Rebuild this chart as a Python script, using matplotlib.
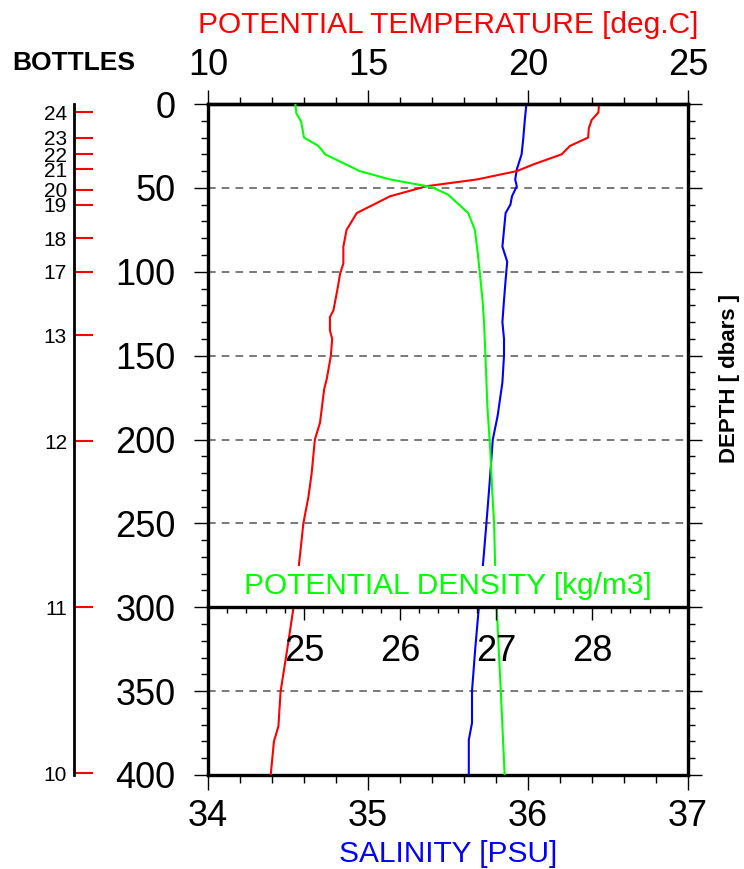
import matplotlib
matplotlib.use("Agg")
import matplotlib.pyplot as plt
import numpy as np
from matplotlib.ticker import MultipleLocator

plt.rcParams['font.family'] = ['Liberation Sans', 'DejaVu Sans']

# potential temperature profile (deg C vs dbar)
temp_depth = [0, 5, 9.5, 14.5, 20, 25, 30, 36, 40, 45, 49, 55, 65, 75, 85, 95, 101,
              111, 123, 127, 135, 140, 150, 164, 170, 190, 200, 220, 234, 250, 268,
              275, 303, 327, 350, 371, 380, 400]
temp = [22.22, 22.2, 21.99, 21.9, 21.88, 21.31, 21.05, 20.17, 19.65, 18.4, 16.83,
        15.69, 14.65, 14.33, 14.23, 14.23, 14.13, 14.04, 13.92, 13.81, 13.81, 13.88,
        13.84, 13.71, 13.63, 13.5, 13.34, 13.24, 13.14, 12.98, 12.88, 12.84, 12.65,
        12.46, 12.27, 12.2, 12.06, 11.96]

# salinity profile (PSU)
sal_depth = [0, 9.5, 21, 30, 39, 45, 49, 55, 60, 65, 75, 85, 94, 105, 117, 130, 140,
             150, 166, 186, 200, 226, 250, 273, 303, 325, 350, 369, 379, 400]
sal = [35.99, 35.98, 35.97, 35.96, 35.93, 35.92, 35.93, 35.9, 35.89, 35.86, 35.85,
       35.84, 35.87, 35.86, 35.85, 35.84, 35.85, 35.85, 35.84, 35.81, 35.78, 35.76,
       35.74, 35.72, 35.69, 35.67, 35.65, 35.65, 35.63, 35.63]

# potential density profile (kg/m3)
dens_depth = [0, 5.5, 10.5, 20, 25, 30, 40, 45, 49, 50, 54, 65, 75, 89, 100, 117, 130,
              150, 180, 206, 230, 250, 273, 303, 350, 400]
dens = [24.91, 24.92, 24.97, 25.0, 25.15, 25.22, 25.58, 25.9, 26.28, 26.35, 26.5,
        26.71, 26.78, 26.81, 26.83, 26.86, 26.875, 26.89, 26.91, 26.94, 26.96, 26.98,
        26.99, 27.01, 27.05, 27.09]

# bottle trip depths
bottle_depth = [5, 20, 30, 39, 51, 60, 80, 100, 138, 201, 300, 399]
bottle_num = [24, 23, 22, 21, 20, 19, 18, 17, 13, 12, 11, 10]

dens_labels = [25, 26, 27, 28]

W, H = 744, 869
fig = plt.figure(figsize=(W / 100, H / 100), dpi=100)

left, right, top, bot = 208, 688, 104, 775
split = 607
pos = [left / W, 1 - bot / H, (right - left) / W, (bot - top) / H]

ax = fig.add_axes(pos)
ax.set_xlim(34, 37)
ax.set_ylim(400, 0)
ax.plot(sal, sal_depth, color='#0000ff', lw=1.5, zorder=3)
ax.xaxis.set_major_locator(MultipleLocator(1))
ax.xaxis.set_minor_locator(MultipleLocator(0.2))
ax.yaxis.set_major_locator(MultipleLocator(50))
ax.yaxis.set_minor_locator(MultipleLocator(10))
ax.yaxis.grid(True, which='major', linestyle=(0, (5, 4)), color='#555555', lw=1.1)
ax.tick_params(axis='y', which='both', left=True, right=True, direction='out', width=1)
ax.tick_params(axis='y', which='major', length=10, labelsize=26, pad=13.5)
ax.tick_params(axis='y', which='minor', length=5)
ax.tick_params(axis='x', which='major', length=11, width=1, labelsize=26, pad=6)
ax.tick_params(axis='x', which='minor', length=6, width=1)
for s in ax.spines.values():
    s.set_linewidth(2.4)
ax.set_xlabel('SALINITY [PSU]', color='#0000ff', fontsize=21.5)
ax.xaxis.set_label_coords(0.5, -0.097)

axT = ax.twiny()
axT.set_xlim(10, 25)
axT.plot(temp, temp_depth, color='#ff0000', lw=1.5)
axT.xaxis.set_major_locator(MultipleLocator(5))
axT.xaxis.set_minor_locator(MultipleLocator(1))
axT.tick_params(axis='x', which='major', length=10, width=1, labelsize=26, pad=5)
axT.tick_params(axis='x', which='minor', length=5, width=1)
for k, s in axT.spines.items():
    s.set_visible(k == 'top')
    s.set_linewidth(2.4)
axT.set_xlabel('POTENTIAL TEMPERATURE [deg.C]', color='#ff0000', fontsize=21.5)
axT.xaxis.set_label_coords(0.5, 1.106)

axR = ax.twiny()
axR.set_xlim(24, 29)
axR.plot(dens, dens_depth, color='#00ff00', lw=1.5)
axR.xaxis.set_visible(False)
for s in axR.spines.values():
    s.set_visible(False)

# lower panel carrying the density axis on the 300 dbar line
axd = fig.add_axes([left / W, 1 - bot / H, (right - left) / W, (bot - split) / H])
axd.set_facecolor('none')
axd.set_xlim(24, 29)
axd.set_ylim(400, 300)
axd.yaxis.set_visible(False)
for k, s in axd.spines.items():
    s.set_visible(k == 'top')
    s.set_linewidth(2.4)
axd.xaxis.tick_top()
axd.xaxis.set_major_locator(MultipleLocator(1))
axd.xaxis.set_minor_locator(MultipleLocator(0.2))
axd.tick_params(axis='x', which='major', direction='in', length=9.5, width=1, labeltop=False)
axd.tick_params(axis='x', which='minor', direction='in', length=4.5, width=1)
for v in dens_labels:
    axd.text(v, 332.3, str(v), ha='center', va='baseline', fontsize=26)
axd.text(26.5, 292.3, 'POTENTIAL DENSITY [kg/m3]', color='#00ff00', fontsize=21.5,
         ha='center', va='baseline', zorder=2,
         bbox=dict(facecolor='white', edgecolor='none', pad=4))

# bottle axis
axb = fig.add_axes([74 / W, 1 - bot / H, 0.03, (bot - top) / H])
axb.set_facecolor('none')
axb.set_ylim(400, 0)
axb.xaxis.set_visible(False)
for k, s in axb.spines.items():
    s.set_visible(k == 'left')
    s.set_linewidth(2)
axb.set_yticks(bottle_depth)
axb.set_yticklabels([str(b) for b in bottle_num])
axb.tick_params(axis='y', direction='in', length=13.5, width=1.5, color='#ff0000',
                labelsize=15, pad=5)

fig.text(74 / W, 1 - 63 / H, 'BOTTLES', fontsize=19, fontweight='bold',
         ha='center', va='center')
fig.text(729 / W, 1 - 378 / H, 'DEPTH [ dbars ]', fontsize=16, fontweight='bold',
         rotation=90, ha='center', va='center')

fig.savefig('out.png', dpi=100)
